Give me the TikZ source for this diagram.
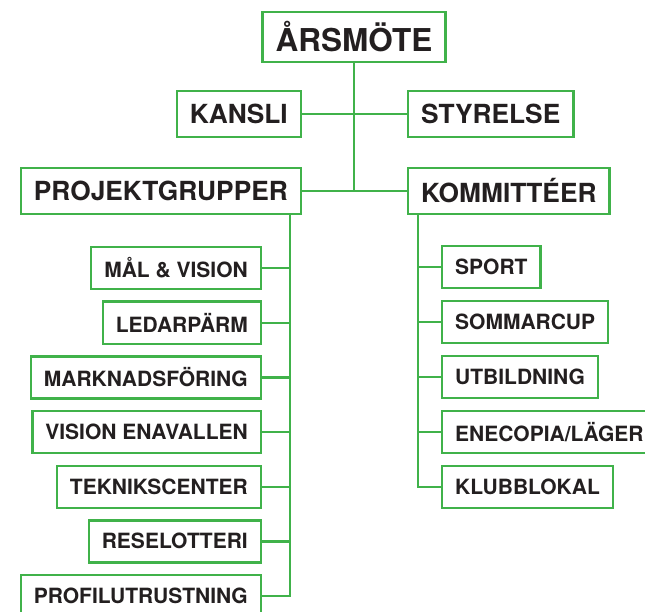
\documentclass[tikz,border=0pt]{standalone}
\usepackage{fontspec}
\setmainfont{TeX Gyre Heros}
\definecolor{orggreen}{RGB}{64,178,74}
\definecolor{orgtext}{RGB}{35,31,32}

\begin{document}
\begin{tikzpicture}
		[x=1pt, y=-1pt,
		box/.style ={rectangle, draw=orggreen, line width=2.4pt, fill=white, text=orgtext, font=\bfseries, inner xsep=13pt, inner ysep=0pt},
		top/.style ={box, minimum height=50pt, font=\fontsize{31.5}{36}\bfseries},
		mid/.style ={box, minimum height=46pt, font=\fontsize{26.3}{30}\bfseries},
		sub/.style ={box, minimum height=42pt, font=\fontsize{21}{24}\bfseries},
		line/.style ={draw=orggreen, line width=2.4pt},
		]
		\useasboundingbox (0,0) rectangle (645,612);

		\draw (354,37) node[top] (A0) {ÅRSMÖTE};

		\draw (302,114) node[mid, anchor=east] (K1) {KANSLI};
		\draw (407,114) node[mid, anchor=west] (S1) {STYRELSE};
		\draw (302,191) node[mid, anchor=east] (P1) {PROJEKTGRUPPER};
		\draw (407,191) node[mid, anchor=west] (C1) {KOMMITTÉER};

		% projektgrupper
		\draw (262,268) node[sub, anchor=east] (P2) {MÅL \& VISION};
		\draw (262,322.7) node[sub, anchor=east] (P3) {LEDARPÄRM};
		\draw (262,377.3) node[sub, anchor=east] (P4) {MARKNADSFÖRING};
		\draw (262,432) node[sub, anchor=east] (P5) {VISION ENAVALLEN};
		\draw (262,486.7) node[sub, anchor=east] (P6) {TEKNIKSCENTER};
		\draw (262,541.3) node[sub, anchor=east] (P7) {RESELOTTERI};
		\draw (262,596) node[sub, anchor=east] (P8) {PROFILUTRUSTNING};

		% kommitteer
		\draw (441,267) node[sub, anchor=west] (C2) {SPORT};
		\draw (441,322) node[sub, anchor=west] (C3) {SOMMARCUP};
		\draw (441,377) node[sub, anchor=west] (C4) {UTBILDNING};
		\draw (441,432) node[sub, anchor=west] (C5) {ENECOPIA/LÄGER};
		\draw (441,487) node[sub, anchor=west] (C6) {KLUBBLOKAL};

		\coordinate (Tr) at (354,191);
		\coordinate (Lb) at (290,214);
		\coordinate (Rb) at (418,214);

		\path[line]
		(A0) -- (Tr)
		(K1) -- (S1)
		(P1) -- (C1)
		(Lb) |- (P8)
		(Rb) |- (C6);
		\foreach \n in {P2,P3,P4,P5,P6,P7}
			\path[line] (\n.east) -- (\n.east -| Lb);
		\foreach \n in {C2,C3,C4,C5}
			\path[line] (\n.west) -- (\n.west -| Rb);
	\end{tikzpicture}
\end{document}
